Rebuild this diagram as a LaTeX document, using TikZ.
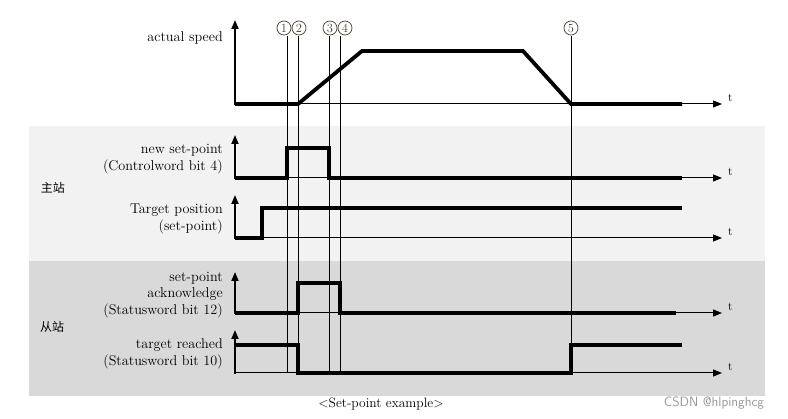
\documentclass[tikz,border=0pt]{standalone}
\usepackage{fontspec}
\newfontfamily\cjk{Noto Sans CJK SC}
\usetikzlibrary{arrows.meta}
\definecolor{bandlight}{HTML}{F2F2F2}
\definecolor{banddark}{HTML}{D9D9D9}
\definecolor{numgray}{HTML}{4A4036}

\begin{document}
\begin{tikzpicture}[x=1pt,y=-1pt,>={Triangle[length=9pt,width=7pt]},
  yaxis/.style={line width=1.8pt,->},
  taxis/.style={line width=1pt,->},
  signal/.style={line width=3.8pt,line join=miter},
  marker/.style={line width=0.9pt},
  lbl/.style={anchor=east,align=right,inner sep=0pt,font=\fontsize{14.2}{16.3}\selectfont},
  tlbl/.style={anchor=south west,inner sep=1.5pt,xshift=4pt,font=\fontsize{12}{12}\selectfont},
  station/.style={inner sep=0pt,font=\cjk\fontsize{12}{13}\selectfont},
  num/.style={circle,draw=numgray,text=numgray,line width=0.7pt,inner sep=0pt,
    minimum size=14pt,font=\fontsize{12.5}{12.5}\selectfont}]
  \useasboundingbox (0,0) rectangle (788,419);
  % background bands
  \fill[bandlight] (29,126) rectangle (765,261);
  \fill[banddark] (29,261) rectangle (765,396);
  % actual speed
  \draw[yaxis] (235,105) -- (235,20);
  \draw[taxis] (235,104) -- (722,104) node[tlbl] (t1) {t};
  \draw[signal] (235,104) -- (298,104) -- (362,51) -- (523,51) -- (571,104) -- (682,104);
  \node[lbl] (speed) at (223,38) {actual speed};
  % new set-point
  \draw[yaxis] (235,179) -- (235,135);
  \draw[taxis] (235,178) -- (722,178) node[tlbl] (t2) {t};
  \draw[signal] (235,178) -- (287,178) -- (287,148) -- (329,148) -- (329,178) -- (682,178);
  \node[lbl] (newsp) at (223,159) {new set-point\\(Controlword bit 4)};
  % target position
  \draw[yaxis] (235,239) -- (235,195);
  \draw[taxis] (235,238) -- (722,238) node[tlbl] (t3) {t};
  \draw[signal] (235,238) -- (262,238) -- (262,208) -- (682,208);
  \node[lbl] (tpos) at (223,219) {Target position\\(set-point)};
  % set-point acknowledge
  \draw[yaxis] (235,314) -- (235,272);
  \draw[taxis] (235,313) -- (722,313) node[tlbl] (t4) {t};
  \draw[signal] (235,313) -- (298,313) -- (298,283) -- (340,283) -- (340,313) -- (676,313);
  \node[lbl] (ack) at (223,295) {set-point\\acknowledge\\(Statusword bit 12)};
  % target reached
  \draw[yaxis] (235,374) -- (235,330);
  \draw[taxis] (235,373) -- (722,373) node[tlbl] (t5) {t};
  \draw[signal] (235,345) -- (298,345) -- (298,373) -- (571,373) -- (571,345) -- (682,345);
  \node[lbl] (reached) at (223,354) {target reached\\(Statusword bit 10)};
  % event markers
  \foreach \x/\c/\n [count=\i] in {287/284/1,298/299/2,329/330/3,340/345/4,571/571/5} {
    \node[num] (ev\i) at (\c,28) {\n};
    \draw[marker] (\x,36) -- (\x,373);
  }
  % stations
  \node[station] (master) at (53,188) {主站};
  \node[station] (slave) at (52,327) {从站};
  % caption
  \node[font=\fontsize{13.5}{15}\selectfont] (cap) at (381,404) {<Set-point example>};
  \node[text=black!40,font=\sffamily\fontsize{13.5}{15}\selectfont] (wm) at (714,403) {CSDN @hlpinghcg};
\end{tikzpicture}
\end{document}
